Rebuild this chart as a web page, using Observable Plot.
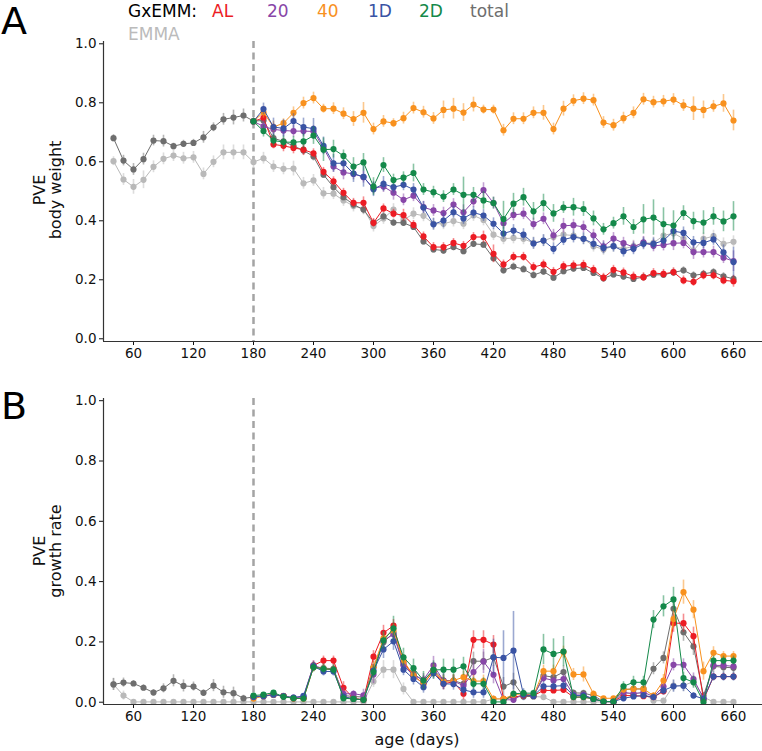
<!DOCTYPE html>
<html><head><meta charset="utf-8">
<script src="https://cdn.jsdelivr.net/npm/d3@7"></script>
<script src="https://cdn.jsdelivr.net/npm/@observablehq/plot@0.6"></script>
<style>
body{margin:0;background:#fff;}
#wrap{position:relative;width:762px;height:751px;overflow:hidden;font-family:"DejaVu Sans",sans-serif;}
#wrap > svg{position:absolute;left:0;}
</style></head><body><div id="wrap"></div>
<script>
// ---------- data ----------
const agesAll = [40,50,60,70,80,90,100,110,120,130,140,150,160,170,180,190,200,210,220,230,240,250,260,270,280,290,300,310,320,330,340,350,360,370,380,390,400,410,420,430,440,450,460,470,480,490,500,510,520,530,540,550,560,570,580,590,600,610,620,630,640,650,660];
const agesG = [180,190,200,210,220,230,240,250,260,270,280,290,300,310,320,330,340,350,360,370,380,390,400,410,420,430,440,450,460,470,480,490,500,510,520,530,540,550,560,570,580,590,600,610,620,630,640,650,660];
const xTicks = [60,120,180,240,300,360,420,480,540,600,660];
const yTicks = [0,0.2,0.4,0.6,0.8,1.0];
const legendLabels = ["AL","20","40","1D","2D","total"];

// Panel A: PVE body weight
const totalA = [.680,.604,.574,.609,.672,.670,.653,.661,.664,.683, .717,.744,.750,.757,.738,.740,.680,.669,.654,.638, .618,.556,.514,.480,.455,.438,.393,.415,.394,.393, .379,.330,.303,.299,.311,.297,.322,.319,.273,.232, .245,.236,.216,.228,.207,.229,.238,.240,.223,.205, .218,.211,.203,.209,.217,.217,.225,.232,.215,.220, .226,.212,.203];
const totalAe = [.012,.018,.02,.02,.018,.02,.01,.012,.012,.02, .015,.02,.025,.022,.012,.015,.015,.012,.012,.015, .015,.012,.012,.012,.015,.015,.012,.012,.012,.012, .012,.012,.012,.012,.012,.012,.012,.012,.012,.012, .012,.012,.012,.012,.012,.012,.012,.012,.012,.012, .012,.012,.012,.012,.012,.012,.012,.012,.012,.012, .012,.012,.012];
const emmaA = [.602,.540,.515,.539,.583,.610,.621,.612,.615,.559, .600,.632,.632,.632,.599,.612,.584,.576,.577,.527, .537,.493,.492,.469,.450,.440,.382,.408,.438,.403, .424,.417,.390,.390,.399,.390,.418,.403,.353,.339, .342,.339,.325,.332,.345,.353,.350,.339,.314,.303, .314,.305,.314,.325,.325,.350,.358,.339,.299,.339, .348,.322,.329];
const emmaAe = [.015,.02,.025,.03,.02,.02,.02,.02,.02,.02, .02,.025,.025,.025,.02,.02,.02,.02,.025,.02, .02,.02,.02,.02,.02,.02,.02,.02,.02,.02, .02,.02,.02,.02,.02,.02,.02,.02,.02,.02, .02,.02,.02,.02,.02,.02,.02,.02,.02,.02, .02,.02,.02,.02,.02,.02,.02,.02,.02,.02, .02,.02,.02];
const redA = [.737,.749,.659,.654,.647,.641,.629,.566,.534,.495, .461,.461,.393,.442,.424,.419,.386,.347,.311,.311, .325,.315,.345,.345,.288,.252,.278,.278,.243,.252, .227,.246,.249,.251,.234,.207,.234,.225,.211,.209, .223,.220,.226,.198,.193,.215,.215,.198,.195];
const redAe = [.01,.015,.015,.02,.02,.02,.015,.015,.015,.015, .015,.02,.015,.015,.015,.02,.015,.015,.015,.015, .015,.015,.015,.02,.03,.015,.015,.015,.015,.015, .015,.015,.015,.015,.015,.015,.015,.015,.015,.015, .015,.015,.015,.015,.015,.015,.015,.015,.02];
const purpleA = [.737,.720,.710,.706,.704,.704,.703,.647,.584,.564, .559,.548,.511,.516,.495,.471,.485,.446,.435,.426, .455,.429,.466,.504,.460,.392,.420,.424,.389,.407, .351,.383,.385,.379,.351,.313,.340,.324,.311,.327, .315,.318,.324,.325,.294,.294,.294,.275,.263];
const purpleAe = [.01,.02,.02,.02,.02,.02,.02,.02,.02,.025, .02,.02,.02,.02,.025,.02,.02,.02,.02,.02, .02,.025,.02,.025,.02,.02,.02,.02,.02,.02, .02,.025,.02,.02,.02,.02,.02,.02,.02,.02, .02,.02,.025,.02,.025,.02,.02,.02,.035];
const orangeA = [.737,.768,.718,.731,.766,.799,.816,.780,.780,.763, .745,.766,.711,.737,.731,.748,.782,.768,.747,.776, .780,.767,.794,.777,.777,.707,.746,.746,.766,.766, .711,.780,.807,.814,.809,.733,.724,.748,.766,.812, .802,.805,.811,.791,.780,.776,.788,.798,.740];
const orangeAe = [.01,.02,.02,.015,.02,.02,.02,.015,.02,.02, .025,.035,.02,.02,.015,.02,.02,.02,.02,.03, .035,.03,.025,.015,.015,.02,.02,.02,.02,.025, .02,.025,.02,.02,.02,.02,.02,.02,.02,.02, .02,.02,.02,.02,.04,.03,.02,.03,.035];
const blueA = [.737,.779,.718,.713,.738,.718,.712,.654,.595,.595, .560,.549,.507,.525,.514,.522,.506,.445,.388,.401, .429,.408,.428,.418,.390,.357,.367,.353,.323,.333, .305,.336,.345,.339,.322,.308,.314,.297,.305,.322, .322,.333,.365,.359,.327,.325,.337,.293,.260];
const blueAe = [.01,.02,.03,.03,.025,.03,.035,.03,.03,.03, .03,.035,.025,.025,.02,.02,.02,.02,.02,.025, .02,.02,.02,.02,.02,.02,.02,.02,.02,.02, .02,.02,.02,.02,.02,.02,.02,.02,.02,.02, .02,.02,.02,.02,.02,.02,.02,.025,.05];
const greenA = [.737,.704,.672,.667,.666,.669,.689,.641,.643,.620, .584,.598,.516,.589,.538,.546,.562,.506,.497,.482, .506,.488,.488,.469,.460,.406,.458,.480,.432,.460, .425,.445,.446,.440,.408,.371,.392,.415,.379,.405, .411,.389,.384,.426,.399,.394,.415,.398,.415];
const greenAe = [.01,.02,.02,.02,.02,.025,.03,.04,.03,.02, .03,.03,.03,.025,.02,.02,.03,.02,.02,.02, .02,.06,.025,.03,.02,.06,.035,.03,.03,.03, .03,.02,.03,.025,.025,.02,.02,.03,.025,.05, .06,.055,.05,.025,.03,.04,.03,.035,.05];

// Panel B: PVE growth rate
const totalB = [.059,.065,.062,.048,.032,.046,.071,.054,.052,.031, .055,.033,.030,.013,.017,.020,.025,.020,.013,.014, .116,.113,.111,.022,.019,.017,.116,.199,.230,.125, .096,.069,.108,.072,.072,.061,.136,.136,.149,.052, .066,.019,.019,.088,.083,.100,.031,.030,.022,.002, .002,.042,.044,.044,.111,.147,.310,.232,.185,.022, .119,.116,.114];
const totalBe = [.02,.015,.01,.01,.01,.015,.02,.02,.015,.01, .02,.02,.02,.01,.01,.01,.01,.01,.01,.01, .015,.015,.015,.01,.01,.01,.02,.03,.02,.02, .02,.02,.02,.02,.02,.02,.03,.03,.03,.03, .03,.01,.01,.02,.02,.02,.01,.01,.01,.01, .01,.01,.01,.01,.02,.02,.03,.03,.03,.01, .02,.02,.02];
const emmaB = [.059,.022,.001,.001,.001,.001,.001,.001,.001,.001, .001,.001,.001,.001,.001,.001,.001,.001,.001,.001, .001,.001,.001,.001,.001,.001,.069,.108,.108,.044, .001,.001,.001,.001,.001,.001,.001,.001,.011,.011, .017,.019,.019,.017,.001,.001,.001,.001,.001,.001, .001,.028,.030,.030,.005,.005,.055,.055,.069,.017, .001,.001,.001];
const emmaBe = [.02,.015,.003,.003,.003,.003,.003,.003,.003,.003, .003,.003,.003,.003,.003,.003,.003,.003,.003,.003, .003,.003,.003,.003,.003,.003,.02,.03,.03,.02, .003,.003,.003,.003,.003,.003,.003,.003,.01,.01, .01,.01,.01,.01,.003,.003,.003,.003,.003,.003, .003,.01,.01,.01,.005,.005,.02,.02,.02,.01, .003,.003,.003];
const redB = [.017,.022,.025,.020,.013,.014,.122,.138,.138,.048, .013,.008,.151,.230,.254,.133,.088,.061,.103,.061, .068,.028,.207,.207,.191,.011,.017,.022,.022,.039, .039,.041,.017,.017,.011,.002,.002,.022,.022,.020, .017,.036,.262,.262,.219,.008,.085,.085,.085];
const redBe = [.005,.005,.005,.005,.005,.005,.015,.015,.015,.02, .01,.005,.02,.025,.02,.02,.02,.02,.02,.02, .02,.02,.03,.03,.03,.01,.01,.01,.01,.01, .01,.01,.01,.01,.005,.003,.003,.01,.01,.01, .01,.01,.03,.03,.03,.01,.01,.01,.01];
const purpleB = [.017,.020,.025,.020,.015,.019,.122,.111,.108,.028, .028,.023,.092,.205,.225,.122,.088,.075,.122,.072, .070,.055,.100,.135,.091,.008,.008,.028,.022,.080, .072,.077,.024,.024,.011,.002,.002,.033,.028,.033, .019,.052,.124,.124,.077,.013,.122,.122,.119];
const purpleBe = [.005,.005,.005,.005,.005,.005,.015,.015,.015,.02, .01,.02,.03,.03,.02,.02,.02,.02,.03,.03, .02,.02,.04,.04,.03,.01,.01,.01,.01,.015, .015,.015,.01,.01,.005,.003,.003,.01,.01,.01, .01,.015,.02,.02,.02,.01,.015,.015,.015];
const orangeB = [.012,.020,.025,.020,.013,.012,.116,.111,.108,.017, .011,.008,.116,.212,.238,.138,.088,.061,.105,.068, .072,.083,.070,.070,.011,.011,.025,.028,.022,.103, .103,.166,.092,.092,.028,.013,.013,.042,.044,.044, .022,.072,.276,.365,.307,.103,.164,.153,.153];
const orangeBe = [.005,.005,.005,.005,.005,.005,.015,.015,.015,.01, .005,.005,.02,.02,.02,.02,.02,.02,.02,.02, .02,.02,.02,.02,.01,.01,.01,.01,.01,.02, .02,.02,.02,.025,.01,.005,.005,.01,.01,.01, .01,.02,.03,.04,.03,.03,.02,.015,.015];
const blueB = [.017,.020,.025,.020,.015,.021,.119,.102,.102,.019, .011,.008,.105,.175,.202,.108,.077,.050,.096,.061, .060,.041,.033,.033,.149,.147,.171,.025,.021,.053, .053,.055,.022,.022,.011,.002,.002,.013,.019,.022, .017,.039,.053,.055,.022,.011,.085,.085,.085];
const blueBe = [.005,.005,.005,.005,.005,.005,.015,.015,.015,.01, .005,.005,.02,.03,.03,.02,.02,.02,.02,.02, .02,.02,.02,.02,.06,.09,.13,.02,.01,.015, .015,.015,.01,.01,.005,.003,.003,.01,.01,.01, .01,.015,.02,.02,.01,.01,.015,.015,.015];
const greenB = [.022,.025,.032,.018,.013,.012,.116,.111,.108,.013, .011,.008,.100,.205,.245,.149,.113,.072,.107,.108, .108,.119,.061,.061,.001,.001,.028,.030,.030,.175, .160,.168,.017,.017,.011,.002,.002,.053,.066,.066, .274,.318,.341,.080,.066,.001,.138,.138,.138];
const greenBe = [.005,.005,.005,.005,.005,.005,.015,.015,.015,.01, .005,.005,.02,.03,.04,.03,.03,.03,.03,.035, .035,.03,.02,.02,.005,.005,.01,.01,.01,.05, .05,.05,.01,.01,.005,.003,.003,.015,.02,.02, .03,.035,.04,.02,.02,.005,.015,.015,.015];

// ---------- styling ----------
const C = {AL:"#ec1c24", "20":"#8846a8", "40":"#f8911e", "1D":"#3953a4", "2D":"#14894a", total:"#6e6e6e", EMMA:"#b9b9b9"};

const seriesA = [
  {x:agesAll, y:emmaA, e:emmaAe, color:C.EMMA},
  {x:agesAll, y:totalA, e:totalAe, color:C.total},
  {x:agesG, y:redA, e:redAe, color:C.AL},
  {x:agesG, y:purpleA, e:purpleAe, color:C["20"]},
  {x:agesG, y:orangeA, e:orangeAe, color:C["40"]},
  {x:agesG, y:blueA, e:blueAe, color:C["1D"]},
  {x:agesG, y:greenA, e:greenAe, color:C["2D"]}
];
const seriesB = [
  {x:agesAll, y:emmaB, e:emmaBe, color:C.EMMA},
  {x:agesAll, y:totalB, e:totalBe, color:C.total},
  {x:agesG, y:redB, e:redBe, color:C.AL},
  {x:agesG, y:purpleB, e:purpleBe, color:C["20"]},
  {x:agesG, y:orangeB, e:orangeBe, color:C["40"]},
  {x:agesG, y:blueB, e:blueBe, color:C["1D"]},
  {x:agesG, y:greenB, e:greenBe, color:C["2D"]}
];

function panel(series, yDomain, top, height, mt, mb) {
  const marks = [Plot.ruleX([180], {stroke:"#a4a4a4", strokeWidth:2.5, strokeDasharray:"7,4.5"})];
  for (const s of series) {
    const data = s.x.map((x, i) => ({x, y:s.y[i], lo:s.y[i]-s.e[i], hi:s.y[i]+s.e[i]}));
    marks.push(Plot.ruleX(data, {x:"x", y1:"lo", y2:"hi", stroke:s.color, strokeOpacity:0.5, strokeWidth:1.6, clip:true}));
    marks.push(Plot.line(data, {x:"x", y:"y", stroke:s.color, strokeWidth:1, clip:true}));
    marks.push(Plot.dot(data, {x:"x", y:"y", fill:s.color, r:3.1, clip:true}));
  }
  marks.push(Plot.axisX({ticks:xTicks, tickSize:4, tickPadding:3, label:null}));
  marks.push(Plot.axisY({ticks:yTicks, tickFormat:d3.format(".1f"), tickSize:4, tickPadding:3, label:null}));
  marks.push(Plot.ruleX([30], {stroke:"#333", strokeWidth:1.2}));
  marks.push(Plot.ruleY([yDomain[0]], {stroke:"#333", strokeWidth:1.2}));
  const svg = Plot.plot({
    width:762, height, marginTop:mt, marginBottom:mb, marginLeft:103, marginRight:0,
    x:{domain:[30,689]}, y:{domain:yDomain},
    style:{fontFamily:"DejaVu Sans", fontSize:"13.5px", color:"#111", background:"transparent", overflow:"visible"},
    marks
  });
  svg.style.top = top + "px";
  return svg;
}

const wrap = document.getElementById("wrap");
wrap.appendChild(panel(seriesA, [-0.0092, 1.0078], 0, 372, 41, 31));
wrap.appendChild(panel(seriesB, [-0.0076, 1.0073], 380, 371, 18, 47));

// ---------- overlay texts ----------
const ov = d3.create("svg").attr("width", 762).attr("height", 751)
  .style("position","absolute").style("left","0px").style("top","0px")
  .style("font-family","DejaVu Sans");
ov.append("text").attr("x",1).attr("y",33.5).attr("font-size",38).attr("fill","#000").text("A");
ov.append("text").attr("x",1).attr("y",418.5).attr("font-size",38).attr("fill","#000").text("B");
ov.append("text").attr("x",128).attr("y",16.7).attr("font-size",17).attr("fill","#000").text("GxEMM:");
const legX = [212,267,317,368,419,470];
const legC = [C.AL, C["20"], C["40"], C["1D"], C["2D"], C.total];
legendLabels.forEach((t,i) => ov.append("text").attr("x",legX[i]).attr("y",16.7).attr("font-size",17).attr("fill",legC[i]).text(t));
ov.append("text").attr("x",128).attr("y",40).attr("font-size",17).attr("fill","#bbbbbb").text("EMMA");
function ylab(x, y, t) {
  ov.append("text").attr("transform",`translate(${x},${y}) rotate(-90)`).attr("text-anchor","middle")
    .attr("font-size",16).attr("fill","#111").text(t);
}
ylab(45, 190, "PVE"); ylab(60.5, 190, "body weight");
ylab(45, 551, "PVE"); ylab(60.5, 551, "growth rate");
ov.append("text").attr("x",417).attr("y",745).attr("text-anchor","middle").attr("font-size",16).attr("fill","#111").text("age (days)");
wrap.appendChild(ov.node());
</script>
</body></html>
